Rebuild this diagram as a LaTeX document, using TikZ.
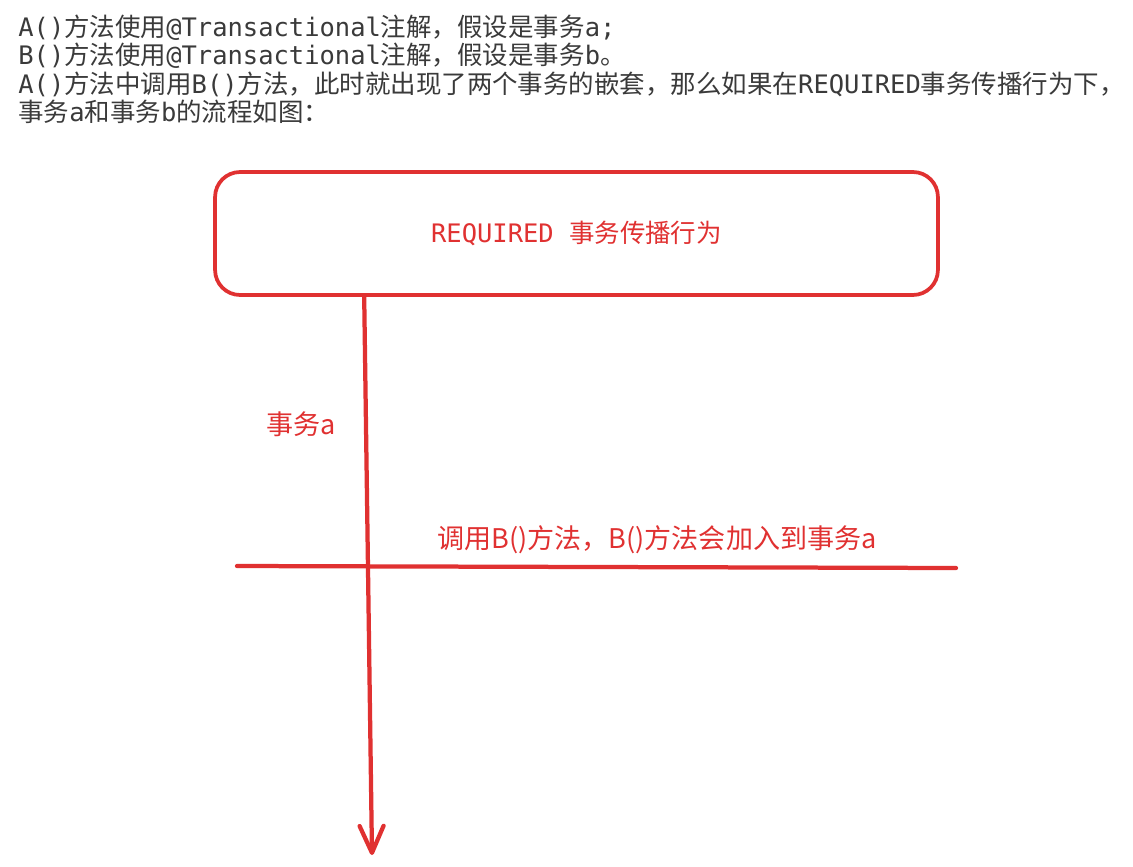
\documentclass[tikz,border=0pt]{standalone}
\usepackage{fontspec}
\setmainfont{Noto Sans CJK SC}
\setmonofont{DejaVu Sans Mono}
\usetikzlibrary{arrows.meta}

\definecolor{sketchred}{HTML}{E03131}
\definecolor{notegray}{HTML}{3A3A3A}
\newcommand\mono[1]{{\ttfamily #1}}

\tikzset{
    note/.style={anchor=base west, inner sep=0pt, text=notegray, font=\fontsize{14.5}{16}\selectfont},
    label/.style={inner sep=0pt, text=sketchred, font=\fontsize{15.4}{17}\selectfont},
    flow/.style={draw=sketchred, line width=0.85mm, line cap=round}
}

\begin{document}
\begin{tikzpicture}[x=0.02cm, y=-0.02cm]
    \useasboundingbox (0,0) rectangle (1133,866);

    \node[note] (line1) at (18,36)   {\mono{A()}方法使用\mono{@Transactional}注解，假设是事务\mono{a;}};
    \node[note] (line2) at (18,64.5) {\mono{B()}方法使用\mono{@Transactional}注解，假设是事务\mono{b}。};
    \node[note] (line3) at (18,93)   {\mono{A()}方法中调用\mono{B()}方法，此时就出现了两个事务的嵌套，那么如果在\mono{REQUIRED}事务传播行为下，};
    \node[note] (line4) at (18,121.5) {事务\mono{a}和事务\mono{b}的流程如图：};

    \node[draw=sketchred, line width=0.75mm, rounded corners=0.5cm, minimum width=14.46cm, minimum height=2.46cm,
          text=sketchred, font=\fontsize{14.5}{16}\selectfont] (box) at (576.5,233.5) {\mono{REQUIRED}\hspace{0.6em}事务传播行为};

    \coordinate (tip) at (372,855);
    \coordinate (joinwest) at (237,566);
    \coordinate (joineast) at (956,568);

    \draw[flow, -{Straight Barb[length=5.4mm, width=4.8mm, round]}] (box.south west) ++(151,0) -- (tip);
    \draw[flow] (joinwest) -- (joineast);

    \node[label] (txa) at (301,424) {事务a};
    \node[label] (joinlabel) at (657,540) {调用B()方法，B()方法会加入到事务a};
\end{tikzpicture}
\end{document}
